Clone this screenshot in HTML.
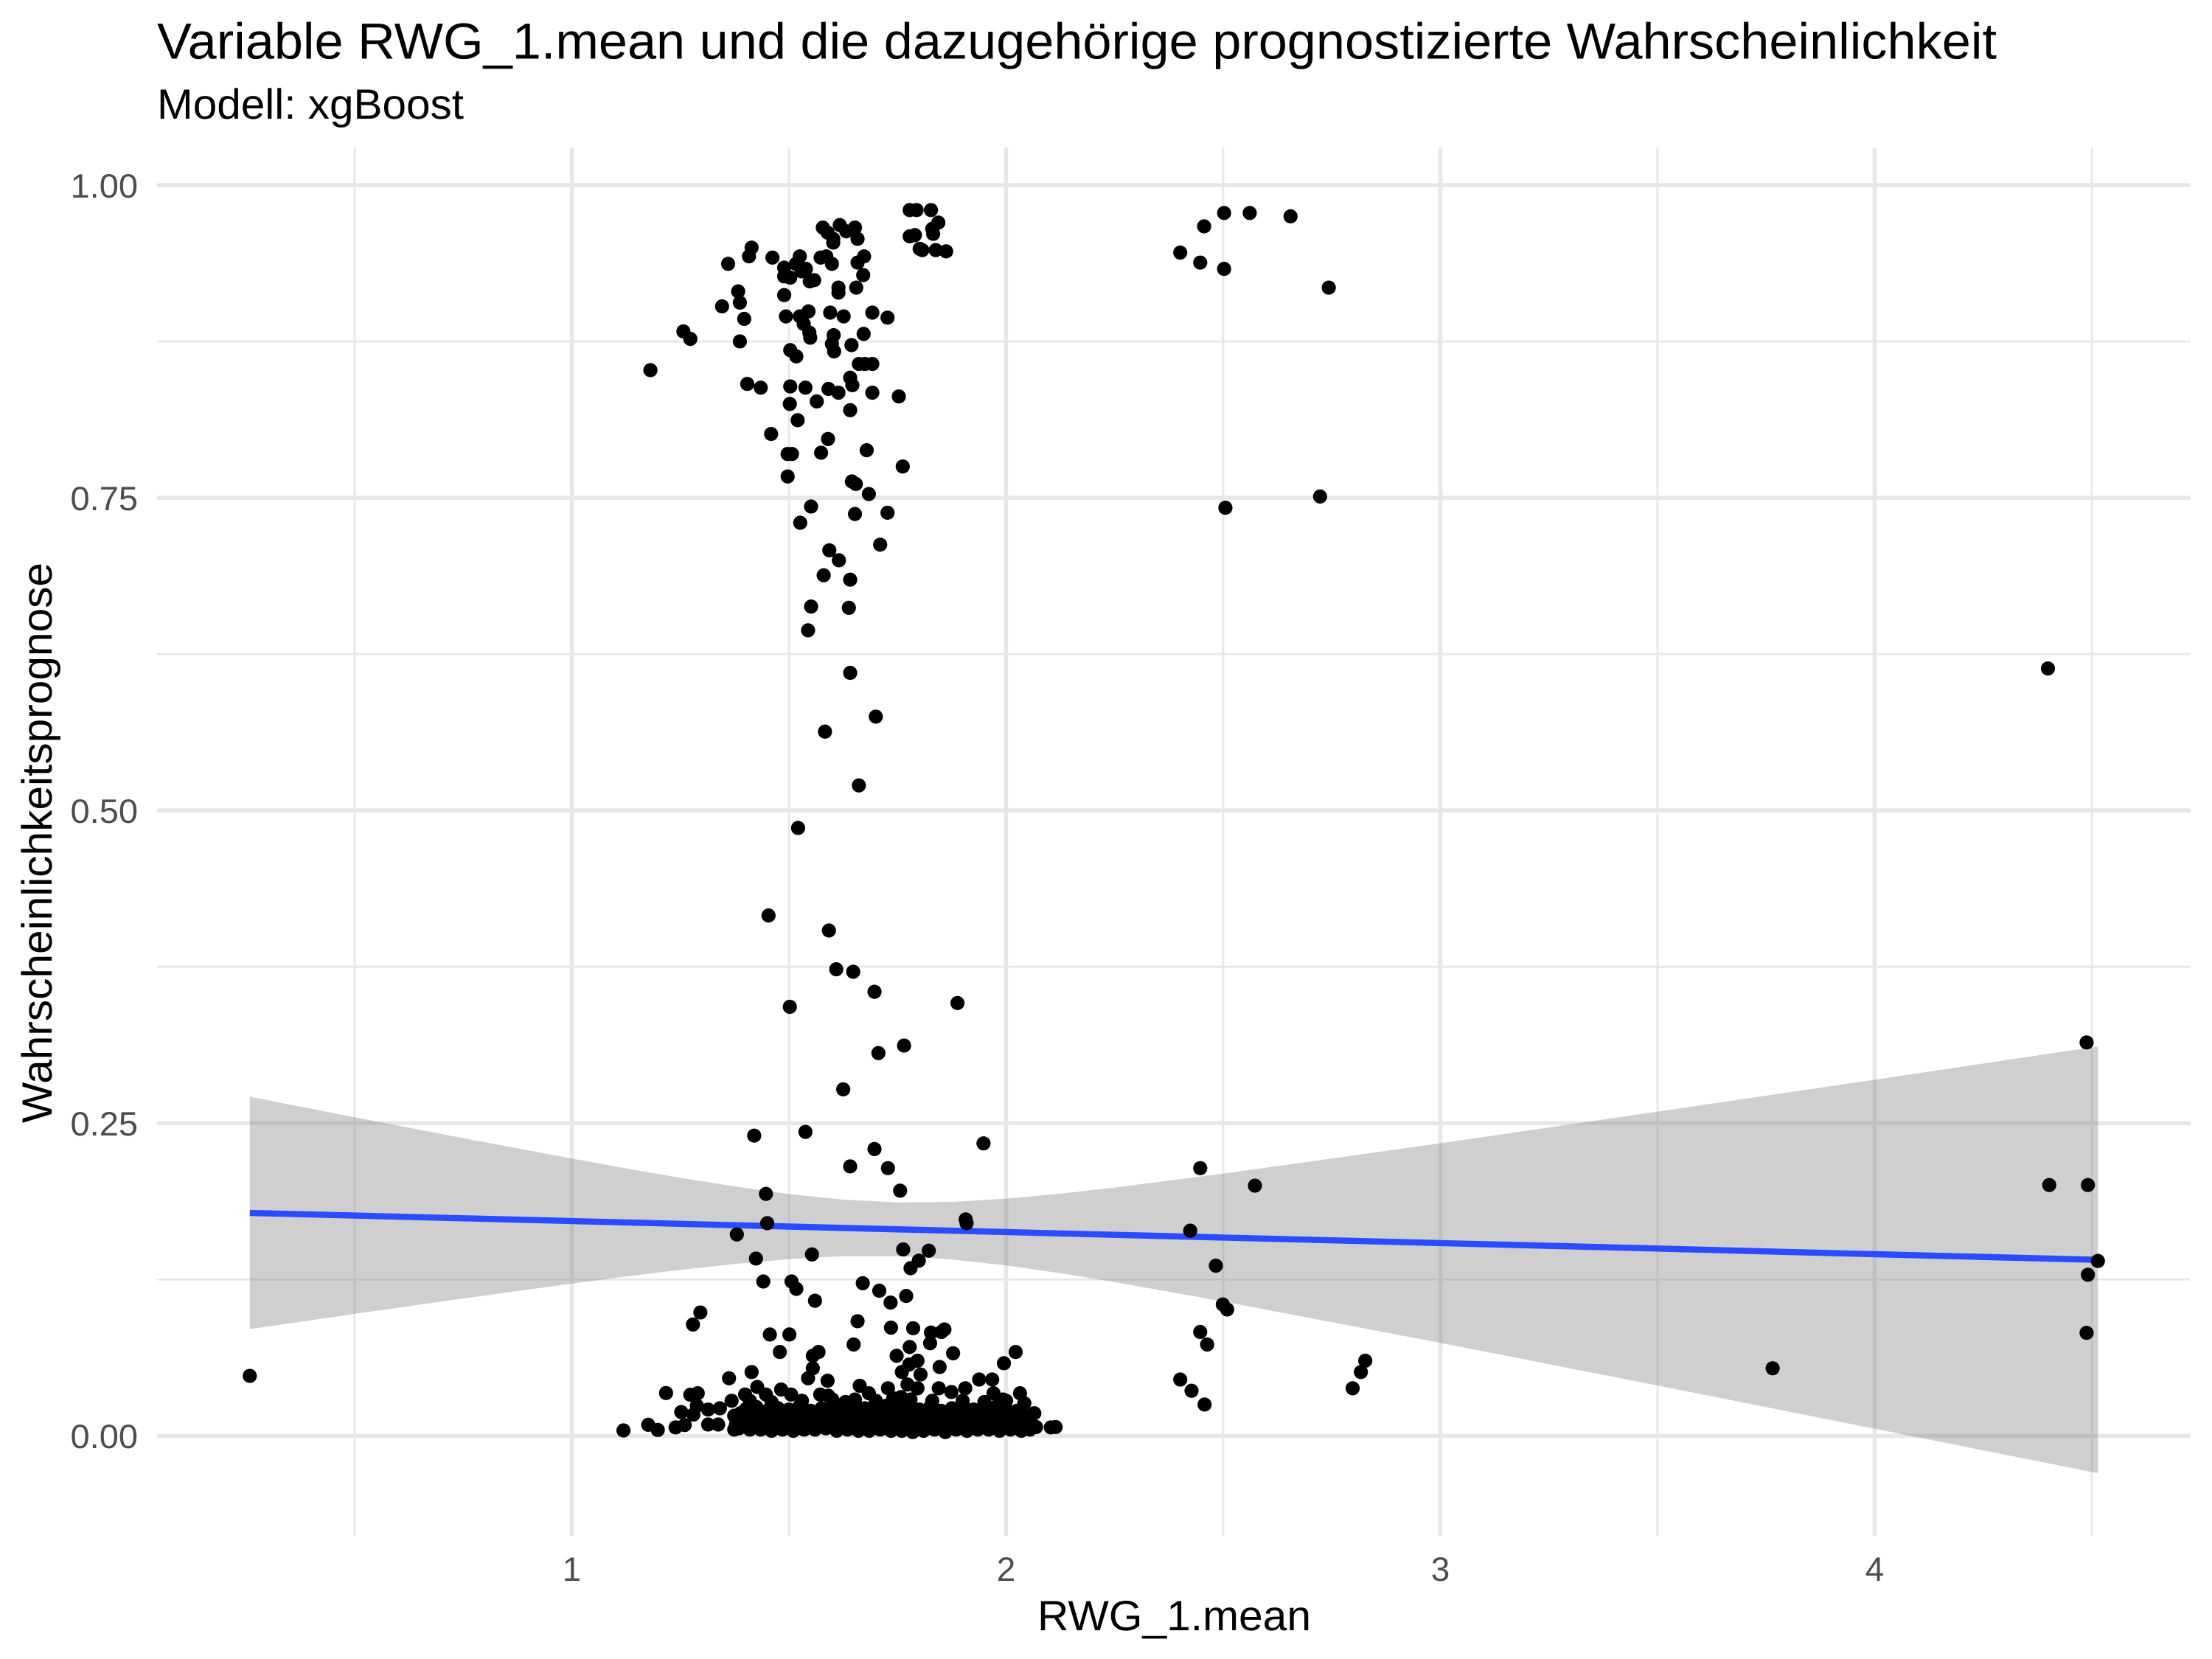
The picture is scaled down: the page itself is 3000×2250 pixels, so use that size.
<!DOCTYPE html>
<html lang="de">
<head>
<meta charset="utf-8">
<title>Variable RWG_1.mean</title>
<style>
html,body{margin:0;padding:0;background:#fff;}
body{width:3000px;height:2250px;overflow:hidden;}
svg{display:block;font-family:"Liberation Sans",Arial,Helvetica,sans-serif;text-rendering:geometricPrecision;}
</style>
</head>
<body>
<svg id="chart" xmlns="http://www.w3.org/2000/svg" width="3000" height="2250" viewBox="0 0 3000 2250">
  <rect x="0" y="0" width="3000" height="2250" fill="#ffffff"/>
  <text x="213" y="79.5" font-size="68.9" fill="#000000" textLength="2495" lengthAdjust="spacingAndGlyphs">Variable RWG_1.mean und die dazugehörige prognostizierte Wahrscheinlichkeit</text>
  <text x="213" y="161" font-size="57.4" fill="#000000" textLength="416" lengthAdjust="spacingAndGlyphs">Modell: xgBoost</text>
  <g id="grid"></g>
  <g id="smooth"></g>
  <g id="points"></g>
  <g id="ticks"></g>
  <text x="1592.5" y="2211" font-size="57.4" text-anchor="middle" fill="#000000" textLength="371" lengthAdjust="spacingAndGlyphs">RWG_1.mean</text>
  <text transform="translate(70,1143) rotate(-90)" font-size="57.4" text-anchor="middle" fill="#000000" textLength="760" lengthAdjust="spacingAndGlyphs">Wahrscheinlichkeitsprognose</text>
</svg>
<script>
// Axis breaks
const xMajorTicks = [1, 2, 3, 4];
const xMinorTicks = [0.5, 1.5, 2.5, 3.5, 4.5];
const yMajorTicks = [0, 0.25, 0.5, 0.75, 1];
const yMinorTicks = [0.125, 0.375, 0.625, 0.875];
const yTickLabels = ["0.00", "0.25", "0.50", "0.75", "1.00"];
const xTickLabels = ["1", "2", "3", "4"];

// Smooth line and its confidence ribbon
const smoothX = [0.2585,0.5,0.75,1,1.125,1.25,1.375,1.5,1.625,1.75,1.875,2,2.125,2.25,2.5,3,3.5,4,4.514];
const smoothFit = [0.1782,0.1761,0.1739,0.1717,0.1706,0.1695,0.1684,0.1673,0.1662,0.1651,0.164,0.1629,0.1618,0.1607,0.1585,0.1541,0.1497,0.1452,0.1407];
const smoothLower = [0.0853,0.0975,0.1098,0.1217,0.1274,0.1327,0.1374,0.1413,0.1436,0.1436,0.141,0.1362,0.13,0.1229,0.1074,0.0743,0.0402,0.0057,-0.0299];
const smoothUpper = [0.2711,0.2547,0.238,0.2217,0.2138,0.2063,0.1994,0.1933,0.1888,0.1866,0.187,0.1896,0.1936,0.1985,0.2096,0.2339,0.2592,0.2847,0.3113];

// Scatter values: RWG_1.mean (pointX) and predicted probability (pointY), same order
const pointX = [
1.778,1.794,1.827,1.844,1.83,1.778,1.79,1.832,1.801,1.807,1.838,1.862,
1.578,1.589,1.602,1.602,1.617,1.632,1.652,1.658,1.414,1.408,1.462,1.36,
1.525,1.516,1.489,1.539,1.529,1.489,1.503,1.573,1.586,1.599,1.673,1.658,
1.671,1.655,1.548,1.558,1.614,1.614,1.383,1.387,1.346,1.489,1.397,1.493,
1.545,1.525,1.534,1.595,1.626,1.692,1.727,1.547,1.549,1.257,1.273,1.387,
1.603,1.599,1.604,1.644,1.672,1.503,1.517,1.181,1.661,1.675,1.692,1.641,
1.646,1.404,1.435,1.503,1.538,1.591,1.614,1.692,1.753,1.502,1.564,1.641,
1.52,1.459,1.59,1.497,1.507,1.574,1.679,1.762,1.497,1.645,1.654,1.684,
1.551,1.652,1.727,1.526,
1.593,1.615,1.71,1.58,1.641,1.638,1.551,1.544,
1.641,1.583,1.7,1.661,1.521,1.453,1.592,1.609,1.648,1.697,1.888,1.502,
1.765,1.706,1.625,
1.42,1.538,1.697,1.641,1.728,1.756,1.447,1.948,1.907,1.909,1.45,1.38,
1.424,1.553,1.763,1.822,1.799,1.78,1.441,1.506,1.517,1.56,1.67,1.708,
1.734,1.77,1.296,1.279,1.456,1.501,1.658,1.735,1.786,1.827,1.851,1.858,
1.649,1.778,1.825,
1.119,1.176,1.198,1.217,1.239,1.26,1.252,1.273,1.29,1.28,1.288,1.314,
1.341,1.314,1.337,1.368,1.362,1.414,1.374,1.374,1.399,1.427,1.447,1.482,
1.505,1.479,1.568,1.555,1.555,1.544,1.589,1.748,1.878,1.847,1.796,1.777,
1.76,1.803,1.663,1.684,1.728,1.773,1.796,1.845,1.874,1.906,1.938,1.968,
1.995,2.022,1.971,1.993,2.032,2.042,2.065,2.069,2.103,2.114,1.572,1.591,
1.652,1.682,1.724,1.758,
1.385,1.41,1.435,1.46,1.485,1.51,1.535,1.56,1.585,1.61,1.635,1.66,
1.685,1.71,1.735,1.76,1.785,1.81,1.835,1.86,1.885,1.91,1.935,1.96,
1.985,2.01,2.035,2.055,
1.39,1.415,1.44,1.465,1.49,1.515,1.54,1.565,1.59,1.615,1.64,1.665,
1.69,1.715,1.74,1.765,1.79,1.815,1.84,1.865,1.89,1.915,1.94,1.965,
1.99,2.015,2.04,
1.4,1.425,1.45,1.475,1.5,1.525,1.55,1.575,1.6,1.625,1.65,1.675,
1.7,1.725,1.75,1.775,1.8,1.825,1.85,1.875,1.9,1.925,1.95,1.975,
2,2.025,
1.378,1.403,1.428,1.453,1.478,1.503,1.528,1.553,1.578,1.603,1.628,1.653,
1.678,1.703,1.728,1.753,1.778,1.803,1.828,1.853,1.878,1.903,1.928,1.953,
1.978,2.003,2.028,2.05,
1.388,1.413,1.438,1.463,1.488,1.513,1.538,1.563,1.588,1.613,1.638,1.663,
1.688,1.713,1.738,1.763,1.788,1.813,1.838,1.863,1.888,1.913,1.938,1.963,
1.988,2.013,2.038,
1.41,1.46,1.53,1.6,1.63,1.7,1.74,1.78,1.83,1.9,1.95,2,
2.502,2.561,2.655,2.456,2.401,2.447,2.502,2.743,2.505,2.723,
2.447,2.573,2.424,2.483,2.499,2.509,2.447,2.463,2.401,2.427,2.457,2.827,
2.817,2.798,3.765,
4.399,4.488,4.402,4.491,4.514,4.491,4.488,
0.2585
];
const pointY = [
0.98,0.98,0.98,0.97,0.965,0.959,0.96,0.961,0.949,0.948,0.948,0.947,
0.966,0.962,0.954,0.957,0.968,0.963,0.966,0.957,0.95,0.943,0.942,0.937,
0.943,0.937,0.934,0.933,0.931,0.927,0.926,0.942,0.943,0.937,0.943,0.938,
0.928,0.918,0.923,0.924,0.918,0.914,0.915,0.906,0.903,0.912,0.893,0.895,
0.899,0.895,0.889,0.898,0.895,0.898,0.894,0.882,0.878,0.883,0.877,0.875,
0.88,0.873,0.867,0.872,0.881,0.868,0.863,0.852,0.857,0.857,0.857,0.846,
0.84,0.841,0.838,0.839,0.838,0.837,0.834,0.834,0.831,0.825,0.827,0.82,
0.812,0.801,0.797,0.785,0.785,0.786,0.788,0.775,0.767,0.763,0.761,0.753,
0.743,0.737,0.738,0.73,
0.708,0.7,0.7125,0.688,0.6845,0.662,0.663,0.644,
0.61,0.563,0.575,0.52,0.486,0.416,0.404,0.373,0.371,0.355,0.346,0.343,
0.312,0.306,0.277,
0.24,0.243,0.2293,0.2154,0.214,0.196,0.1934,0.2338,0.173,0.17,0.17,0.161,
0.1417,0.145,0.149,0.148,0.14,0.134,0.1234,0.1234,0.1175,0.108,0.122,0.116,
0.1065,0.1118,0.0986,0.089,0.081,0.081,0.0916,0.0865,0.086,0.0825,0.083,0.085,
0.073,0.071,0.074,
0.0043,0.0088,0.0047,0.0342,0.0067,0.0086,0.019,0.0328,0.034,0.017,0.024,0.021,
0.022,0.009,0.009,0.028,0.046,0.051,0.016,0.005,0.033,0.039,0.033,0.037,
0.033,0.067,0.067,0.064,0.054,0.046,0.044,0.064,0.066,0.055,0.06,0.057,
0.051,0.049,0.04,0.034,0.038,0.041,0.038,0.038,0.035,0.038,0.045,0.045,
0.058,0.067,0.034,0.029,0.034,0.026,0.018,0.007,0.0067,0.007,0.033,0.032,
0.029,0.021,0.024,0.031,
0.006,0.005,0.005,0.004,0.005,0.004,0.005,0.005,0.006,0.004,0.005,0.004,
0.004,0.005,0.004,0.004,0.003,0.004,0.005,0.003,0.005,0.004,0.005,0.005,
0.004,0.005,0.004,0.005,
0.014,0.012,0.013,0.014,0.012,0.013,0.015,0.012,0.013,0.014,0.012,0.013,
0.014,0.012,0.013,0.015,0.012,0.013,0.014,0.012,0.013,0.014,0.013,0.012,
0.014,0.013,0.012,
0.021,0.023,0.02,0.022,0.021,0.024,0.02,0.022,0.023,0.021,0.02,0.022,
0.024,0.021,0.022,0.025,0.021,0.023,0.02,0.022,0.024,0.021,0.02,0.023,
0.021,0.02,
0.009,0.008,0.01,0.009,0.008,0.01,0.009,0.009,0.01,0.008,0.009,0.01,
0.009,0.008,0.01,0.009,0.008,0.01,0.009,0.009,0.008,0.01,0.009,0.008,
0.01,0.009,0.008,0.01,
0.018,0.017,0.018,0.016,0.018,0.017,0.018,0.017,0.016,0.018,0.017,0.018,
0.016,0.018,0.017,0.018,0.017,0.016,0.018,0.017,0.018,0.016,0.017,0.018,
0.017,0.016,0.018,
0.028,0.027,0.028,0.029,0.027,0.028,0.03,0.029,0.028,0.028,0.027,0.028,
0.9777,0.9777,0.975,0.967,0.946,0.938,0.933,0.918,0.742,0.751,
0.214,0.2,0.164,0.136,0.105,0.101,0.083,0.073,0.045,0.036,0.025,0.06,
0.051,0.038,0.054,
0.6135,0.3145,0.2005,0.2005,0.1398,0.1288,0.0823,
0.0479
];

const SVG_NS = 'http://www.w3.org/2000/svg';
const panel = { left: 213, right: 2970.7, top: 200, bottom: 2083 };
const dotRadius = 9.6;

function xScale(v) { return 775.5 + (v - 1) * 589; }
function yScale(v) { return 1947.3 - v * 1696.3; }

function make(tag, attrs, parent) {
  const el = document.createElementNS(SVG_NS, tag);
  Object.keys(attrs).forEach(function (k) { el.setAttribute(k, attrs[k]); });
  parent.appendChild(el);
  return el;
}

const gridLayer = document.getElementById('grid');
const smoothLayer = document.getElementById('smooth');
const pointLayer = document.getElementById('points');
const tickLayer = document.getElementById('ticks');
const gridColor = '#E7E7E7';

yMinorTicks.forEach(function (v) {
  const el = make('line', { x1: panel.left, x2: panel.right, y1: yScale(v), y2: yScale(v), stroke: gridColor, 'stroke-width': 2.8 }, gridLayer);
  
  
});
xMinorTicks.forEach(function (v) {
  const el = make('line', { x1: xScale(v), x2: xScale(v), y1: panel.top, y2: panel.bottom, stroke: gridColor, 'stroke-width': 2.8 }, gridLayer);
  
  
});
yMajorTicks.forEach(function (v) {
  const el = make('line', { x1: panel.left, x2: panel.right, y1: yScale(v), y2: yScale(v), stroke: gridColor, 'stroke-width': 5.5 }, gridLayer);
  
  
});
xMajorTicks.forEach(function (v) {
  const el = make('line', { x1: xScale(v), x2: xScale(v), y1: panel.top, y2: panel.bottom, stroke: gridColor, 'stroke-width': 5.5 }, gridLayer);
  
  
});

yMajorTicks.forEach(function (v, i) {
  const el = make('text', { x: 187, y: yScale(v) + 16.8, 'font-size': 45.9, 'text-anchor': 'end', fill: '#4D4D4D', textLength: 91.5, lengthAdjust: 'spacingAndGlyphs' }, tickLayer);
  el.textContent = yTickLabels[i];
  
  
});
xMajorTicks.forEach(function (v, i) {
  const el = make('text', { x: xScale(v), y: 2144, 'font-size': 45.9, 'text-anchor': 'middle', fill: '#4D4D4D' }, tickLayer);
  el.textContent = xTickLabels[i];
  
  
});

const ribbonUpper = smoothX.map(function (x, i) { return xScale(x).toFixed(2) + ',' + yScale(smoothUpper[i]).toFixed(2); });
const ribbonLower = smoothX.map(function (x, i) { return xScale(x).toFixed(2) + ',' + yScale(smoothLower[i]).toFixed(2); }).reverse();
const ribbon = make('polygon', { points: ribbonUpper.concat(ribbonLower).join(' '), fill: '#878787', 'fill-opacity': 0.4 }, smoothLayer);



const linePoints = smoothX.map(function (x, i) { return xScale(x).toFixed(2) + ',' + yScale(smoothFit[i]).toFixed(2); });
const smoothLine = make('polyline', { points: linePoints.join(' '), fill: 'none', stroke: '#2A4BFF', 'stroke-width': 8.4 }, smoothLayer);



pointX.forEach(function (x, i) {
  const dot = make('circle', { cx: xScale(x).toFixed(2), cy: yScale(pointY[i]).toFixed(2), r: dotRadius, fill: '#000000' }, pointLayer);
  
  
});
</script>
</body>
</html>
